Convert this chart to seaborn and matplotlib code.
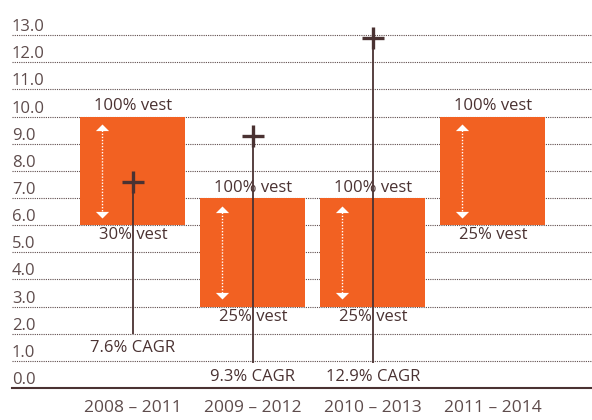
import numpy as np
import pandas as pd
import seaborn as sns
import matplotlib.pyplot as plt

# data
periods = ["2008 – 2011", "2009 – 2012", "2010 – 2013", "2011 – 2014"]
low = [6.0, 3.0, 3.0, 6.0]
high = [10.0, 7.0, 7.0, 10.0]
cagr = [7.6, 9.3, 12.9, np.nan]
cagr_labels = ["7.6% CAGR", "9.3% CAGR", "12.9% CAGR", ""]
cagr_label_y = [1.47, 0.4, 0.4, np.nan]
top_labels = ["100% vest", "100% vest", "100% vest", "100% vest"]
bottom_labels = ["30% vest", "25% vest", "25% vest", "25% vest"]
yticks = np.arange(0, 14)

orange = "#F26122"
dark = "#4a3232"
grey = "#5e4c4c"

sns.set_theme(style="white")
plt.rcParams['font.family'] = ['Open Sans', 'DejaVu Sans']

df = pd.DataFrame({"period": periods, "low": low, "high": high})
df["height"] = df["high"] - df["low"]

fig = plt.figure(figsize=(5.92, 4.2), dpi=100)
ax = fig.add_axes([12 / 592, 1 - 388 / 420, 1 - 12 / 592, (388 - 18.8) / 420])

sns.barplot(data=df, x="period", y="height", bottom=df["low"].values,
            color=orange, saturation=1, width=0.875, ax=ax, zorder=2,
            linewidth=0)

pos = np.arange(len(periods))

# white dotted double arrows inside the bars
tri_up = [(-1, -1), (1, -1), (0, 0)]
tri_down = [(-1, 1), (1, 1), (0, 0)]
ax_x = pos - 0.255
ax.vlines(ax_x, df["low"] + 0.4, df["high"] - 0.4, colors="white",
          linestyles=(0, (1, 1.2)), linewidth=1.0, zorder=3)
ax.plot(ax_x, df["high"] - 0.28, ls="none", marker=tri_up, ms=9.5,
        color="white", mec="white", mew=0, zorder=4)
ax.plot(ax_x, df["low"] + 0.27, ls="none", marker=tri_down, ms=9.5,
        color="white", mec="white", mew=0, zorder=4)

# vest labels
for i in range(len(periods)):
    ax.annotate(top_labels[i], (pos[i], high[i]), xytext=(0, 1.5),
                textcoords="offset points", ha="center", va="bottom",
                fontsize=12, color=dark, zorder=5)
    ax.annotate(bottom_labels[i], (pos[i], low[i]), xytext=(0, -1.5),
                textcoords="offset points", ha="center", va="top",
                fontsize=12, color=dark, zorder=5)

# CAGR markers with leader lines
for i in range(len(periods)):
    if np.isnan(cagr[i]):
        continue
    ax.vlines(pos[i], cagr_label_y[i] + 0.52, cagr[i], colors=dark,
              linewidth=1.3, zorder=5)
    ax.plot(pos[i], cagr[i], ls="none", marker="+", ms=15.5, mew=2.4,
            color=dark, zorder=6)
    ax.text(pos[i], cagr_label_y[i], cagr_labels[i], ha="center",
            va="center", fontsize=12, color=dark, zorder=6)

ax.set_xlim(-1.008, 3.825)
ax.set_ylim(0, 13.6)
ax.set_yticks(yticks)
ax.set_yticklabels([f"{v:.1f}" for v in yticks])
ax.set_xlabel("")
ax.set_ylabel("")
ax.grid(axis="y", color=grey, linestyle=(0, (1, 1)), linewidth=0.8, zorder=0)
ax.set_axisbelow(True)
for s in ["left", "right", "top"]:
    ax.spines[s].set_visible(False)
ax.spines["bottom"].set_color(dark)
ax.spines["bottom"].set_linewidth(1.5)
ax.tick_params(axis="y", length=0, pad=0, labelsize=12, labelcolor=grey)
ax.tick_params(axis="x", length=0, pad=8.5, labelsize=12.5, labelcolor=grey)
for lbl in ax.get_yticklabels():
    lbl.set_horizontalalignment("left")
    lbl.set_verticalalignment("bottom")

fig.savefig("out.png", dpi=100)
